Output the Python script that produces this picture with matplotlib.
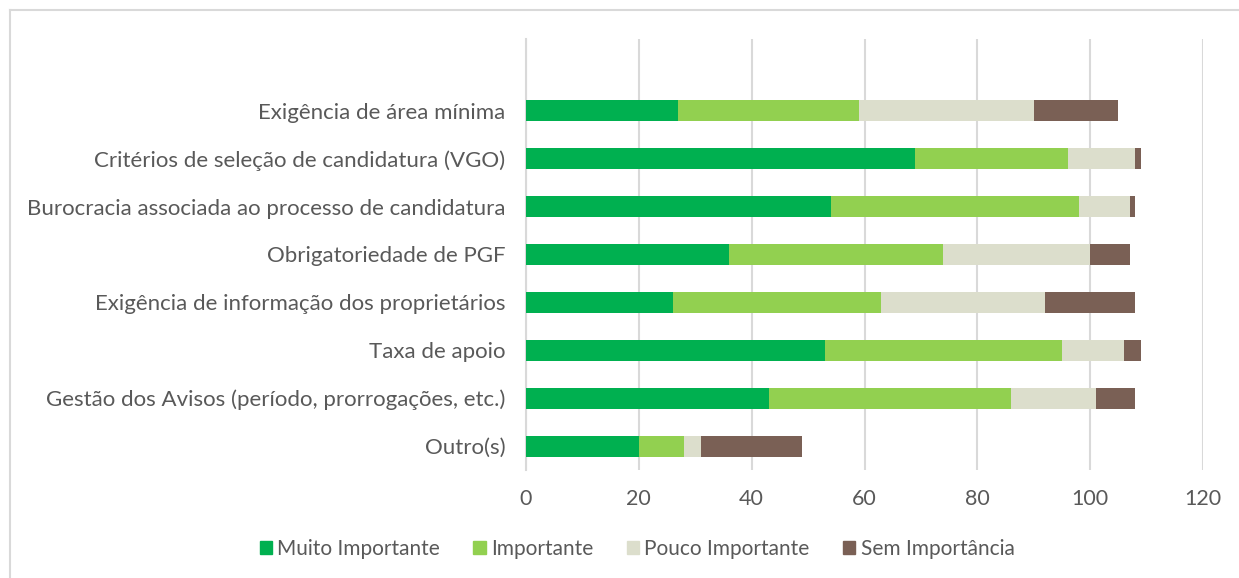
import matplotlib.pyplot as plt
from matplotlib.lines import Line2D
import numpy as np

plt.rcParams["font.family"] = ["Lato", "DejaVu Sans"]

categories = [
    "Exigência de área mínima",
    "Critérios de seleção de candidatura (VGO)",
    "Burocracia associada ao processo de candidatura",
    "Obrigatoriedade de PGF",
    "Exigência de informação dos proprietários",
    "Taxa de apoio",
    "Gestão dos Avisos (período, prorrogações, etc.)",
    "Outro(s)",
]
muito = [27, 69, 54, 36, 26, 53, 43, 20]
importante = [32, 27, 44, 38, 37, 42, 43, 8]
pouco = [31, 12, 9, 26, 29, 11, 15, 3]
sem = [15, 1, 1, 7, 16, 3, 7, 18]

series = [
    ("Muito Importante", muito, "#00B050"),
    ("Importante", importante, "#92D050"),
    ("Pouco Importante", pouco, "#DCDECC"),
    ("Sem Importância", sem, "#7A6055"),
]

fig = plt.figure(figsize=(12.39, 5.78), dpi=100)
ax = fig.add_axes([526 / 1239, 108 / 578, 677 / 1239, 431 / 578])

y = np.arange(len(categories))[::-1]
left = np.zeros(len(categories))
for name, vals, color in series:
    ax.barh(y, vals, left=left, height=0.44, color=color, label=name, zorder=3)
    left += np.array(vals)

ax.set_xlim(0, 120)
ax.set_ylim(-0.5, 8.5)
ax.set_xticks(range(0, 121, 20))
ax.set_yticks(y)
ax.set_yticklabels(categories)
ax.grid(axis="x", color="#D9D9D9", linewidth=1.5, zorder=0)
for s in ["top", "right", "bottom"]:
    ax.spines[s].set_visible(False)
ax.spines["left"].set_color("#D9D9D9")
ax.spines["left"].set_linewidth(1.5)
ax.tick_params(axis="both", length=0, colors="#595959", labelsize=15.5)
ax.tick_params(axis="y", labelsize=16, pad=15)
ax.tick_params(axis="x", pad=14)

handles = [plt.Rectangle((0, 0), 1, 1, color=c) for _, _, c in series]
fig.legend(handles, [n for n, _, _ in series], loc="center",
           bbox_to_anchor=(637 / 1239, 1 - 549 / 578), ncol=4, frameon=False,
           fontsize=15, labelcolor="#595959", handlelength=0.6, handleheight=0.6,
           handletextpad=0.25, columnspacing=1.6)

# thin border on top and left, as in the reference
fig.add_artist(Line2D([10 / 1239, 10 / 1239], [0, 1 - 10 / 578], color="#D9D9D9", lw=1.5))
fig.add_artist(Line2D([10 / 1239, 1], [1 - 10 / 578, 1 - 10 / 578], color="#D9D9D9", lw=1.5))

plt.savefig("out.png", dpi=100)
